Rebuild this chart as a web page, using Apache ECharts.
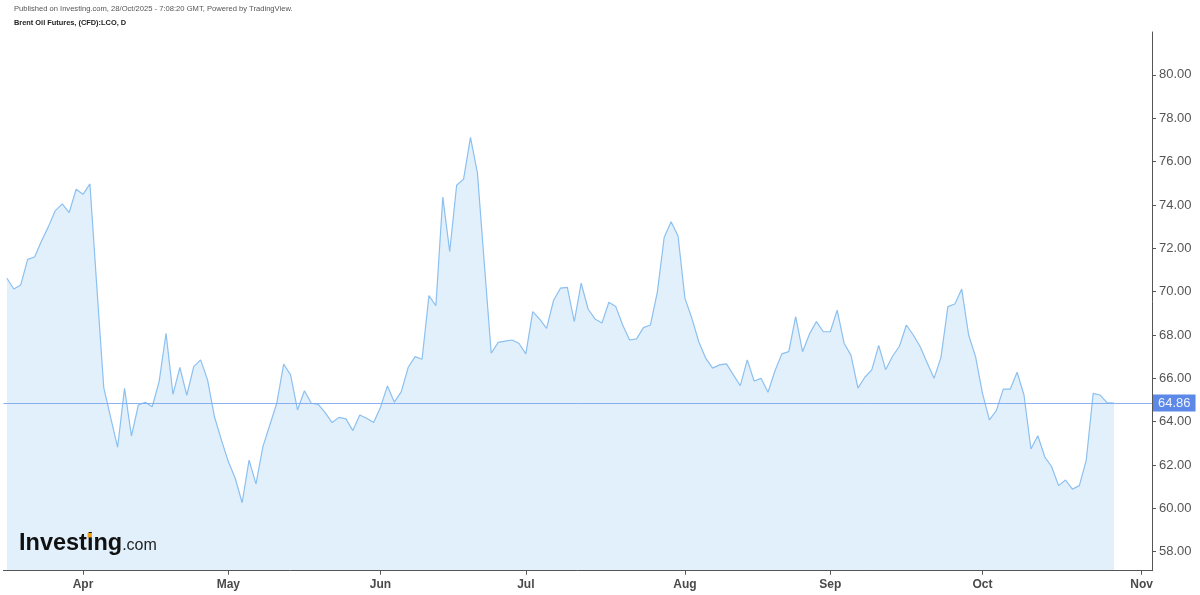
<!DOCTYPE html>
<html>
<head>
<meta charset="utf-8">
<script src="https://cdn.jsdelivr.net/npm/echarts@6/dist/echarts.min.js"></script>
<style>
  html, body { margin: 0; padding: 0; background: #ffffff; }
  #chart { width: 1200px; height: 595px; }
</style>
</head>
<body>
<div id="chart"></div>
<script>
// Trading days (daily bars), Mar 17 2025 – Nov 4 2025
const marDays = ['03-17','03-18','03-19','03-20','03-21','03-24','03-25','03-26','03-27','03-28','03-31'];
const aprDays = ['04-01','04-02','04-03','04-04','04-07','04-08','04-09','04-10','04-11','04-14','04-15','04-16','04-17','04-21','04-22','04-23','04-24','04-25','04-28','04-29','04-30'];
const mayDays = ['05-01','05-02','05-05','05-06','05-07','05-08','05-09','05-12','05-13','05-14','05-15','05-16','05-19','05-20','05-21','05-22','05-23','05-26','05-27','05-28','05-29','05-30'];
const junDays = ['06-02','06-03','06-04','06-05','06-06','06-09','06-10','06-11','06-12','06-13','06-16','06-17','06-18','06-19','06-20','06-23','06-24','06-25','06-26','06-27','06-30'];
const julDays = ['07-01','07-02','07-03','07-04','07-07','07-08','07-09','07-10','07-11','07-14','07-15','07-16','07-17','07-18','07-21','07-22','07-23','07-24','07-25','07-28','07-29','07-30','07-31'];
const augDays = ['08-01','08-04','08-05','08-06','08-07','08-08','08-11','08-12','08-13','08-14','08-15','08-18','08-19','08-20','08-21','08-22','08-25','08-26','08-27','08-28','08-29'];
const sepDays = ['09-01','09-02','09-03','09-04','09-05','09-08','09-09','09-10','09-11','09-12','09-15','09-16','09-17','09-18','09-19','09-22','09-23','09-24','09-25','09-26','09-29','09-30'];
const octDays = ['10-01','10-02','10-03','10-06','10-07','10-08','10-09','10-10','10-13','10-14','10-15','10-16','10-17','10-20','10-21','10-22','10-23','10-24','10-27','10-28','10-29','10-30','10-31'];
const novDays = ['11-03','11-04'];

// Daily closes
const marPrices = [70.62, 70.12, 70.31, 71.49, 71.60, 72.34, 73.00, 73.74, 74.05, 73.65, 74.72];
const aprPrices = [74.49, 74.97, 70.20, 65.57, 64.19, 62.82, 65.54, 63.34, 64.77, 64.90, 64.69, 65.85, 68.08, 65.26, 66.51, 65.22, 66.54, 66.85, 65.93, 64.23, 63.16];
const mayPrices = [62.16, 61.39, 60.26, 62.23, 61.13, 62.85, 63.85, 64.85, 66.66, 66.16, 64.54, 65.43, 64.85, 64.80, 64.42, 63.96, 64.20, 64.13, 63.59, 64.31, 64.16, 63.96];
const junPrices = [64.67, 65.65, 64.90, 65.39, 66.51, 67.00, 66.88, 69.82, 69.35, 74.36, 71.85, 74.91, 75.19, 77.12, 75.49, 71.30, 67.16, 67.66, 67.72, 67.77, 67.62];
const julPrices = [67.13, 69.08, 68.73, 68.31, 69.59, 70.16, 70.20, 68.62, 70.39, 69.20, 68.74, 68.55, 69.51, 69.31, 68.46, 67.77, 67.82, 68.34, 68.46, 69.97, 72.51, 73.23, 72.57];
const augPrices = [69.69, 68.77, 67.69, 66.93, 66.47, 66.62, 66.67, 66.16, 65.66, 66.85, 65.88, 66.00, 65.36, 66.34, 67.13, 67.23, 68.85, 67.23, 68.05, 68.62, 68.15];
const sepPrices = [68.15, 69.15, 67.62, 67.06, 65.55, 66.05, 66.39, 67.52, 66.40, 67.02, 67.48, 68.46, 68.00, 67.46, 66.72, 66.00, 66.97, 69.31, 69.43, 70.12, 68.00, 67.00];
const octPrices = [65.31, 64.08, 64.51, 65.50, 65.50, 66.28, 65.23, 62.74, 63.35, 62.38, 61.92, 61.05, 61.31, 60.89, 61.05, 62.23, 65.31, 65.23, 64.88, 64.86];

const lastPrice = 64.86;
const tickDates = ['04-01','05-01','06-02','07-01','08-01','09-01','10-01','11-03'];
const tickLabels = ['Apr','May','Jun','Jul','Aug','Sep','Oct','Nov'];
const yTicks = [58, 60, 62, 64, 66, 68, 70, 72, 74, 76, 78, 80];

const categories = [].concat(marDays, aprDays, mayDays, junDays, julDays, augDays, sepDays, octDays, novDays);
const closes = [].concat(marPrices, aprPrices, mayPrices, junPrices, julPrices, augPrices, sepPrices, octPrices);
const seriesData = categories.map((d, i) => (i < closes.length ? closes[i] : null));

const isTick = (idx, val) => tickDates.indexOf(val) >= 0;
const FONT = 'Liberation Sans, Arial, sans-serif';

const chart = echarts.init(document.getElementById('chart'), null, { renderer: 'canvas' });
chart.setOption({
  animation: false,
  backgroundColor: '#ffffff',
  title: [
    {
      text: 'Published on Investing.com, 28/Oct/2025 - 7:08:20 GMT, Powered by TradingView.',
      left: 9, top: 0,
      textStyle: { fontFamily: FONT, fontSize: 7.6, fontWeight: 'normal', color: '#555555' }
    },
    {
      text: 'Brent Oil Futures, (CFD):LCO, D',
      left: 9, top: 14,
      textStyle: { fontFamily: FONT, fontSize: 7.4, fontWeight: 'bold', color: '#222222' }
    }
  ],
  graphic: [
    {
      type: 'text', left: 19, top: 532, z: 10,
      style: {
        text: '{a|Investing}{b|.com}',
        rich: {
          a: { fontFamily: FONT, fontSize: 23.5, fontWeight: 'bold', fill: '#111111' },
          b: { fontFamily: FONT, fontSize: 16, fontWeight: 'normal', fill: '#222222', padding: [4, 0, 0, 0] }
        }
      }
    },
    {
      type: 'rect', z: 11,
      shape: { x: 87.6, y: 533, width: 4.4, height: 4.4 },
      style: { fill: '#f4a31f' }
    }
  ],
  grid: { left: 3.44, right: 48, top: 32, bottom: 24.3, containLabel: false },
  xAxis: {
    type: 'category',
    data: categories,
    boundaryGap: true,
    z: 5,
    axisLine: { show: true, lineStyle: { color: '#555555', width: 1 } },
    axisTick: { show: true, alignWithLabel: true, interval: isTick, length: 4, lineStyle: { color: '#555555' } },
    axisLabel: {
      interval: isTick,
      formatter: (val) => tickLabels[tickDates.indexOf(val)],
      fontFamily: FONT,
      fontSize: 12, fontWeight: 'bold', color: '#4a4a4a', margin: 8
    },
    splitLine: { show: false }
  },
  yAxis: {
    type: 'value',
    position: 'right',
    min: 57.125,
    max: 81.98,
    z: 5,
    axisLine: { show: true, lineStyle: { color: '#555555', width: 1 } },
    axisTick: { show: true, length: 4, customValues: yTicks, lineStyle: { color: '#555555' } },
    axisLabel: {
      customValues: yTicks,
      formatter: (v) => v.toFixed(2),
      fontFamily: FONT,
      fontSize: 13, color: '#555555', margin: 7
    },
    splitLine: { show: false }
  },
  series: [
    {
      type: 'line',
      data: seriesData,
      showSymbol: false,
      symbol: 'none',
      connectNulls: false,
      lineStyle: { color: '#8cc0f0', width: 1.2 },
      areaStyle: { color: '#e1f0fb', opacity: 1 },
      markLine: {
        silent: true,
        symbol: 'none',
        data: [{ yAxis: lastPrice }],
        lineStyle: { color: '#7ea8ee', width: 1, type: 'solid', opacity: 0.9 },
        emphasis: { disabled: true },
        label: {
          show: true,
          position: 'end',
          distance: 1,
          formatter: lastPrice.toFixed(2),
          backgroundColor: '#4a7be6',
          color: '#ffffff',
          fontFamily: FONT,
          fontSize: 13,
          padding: [2, 5, 2, 5]
        }
      }
    }
  ]
});
</script>
</body>
</html>
